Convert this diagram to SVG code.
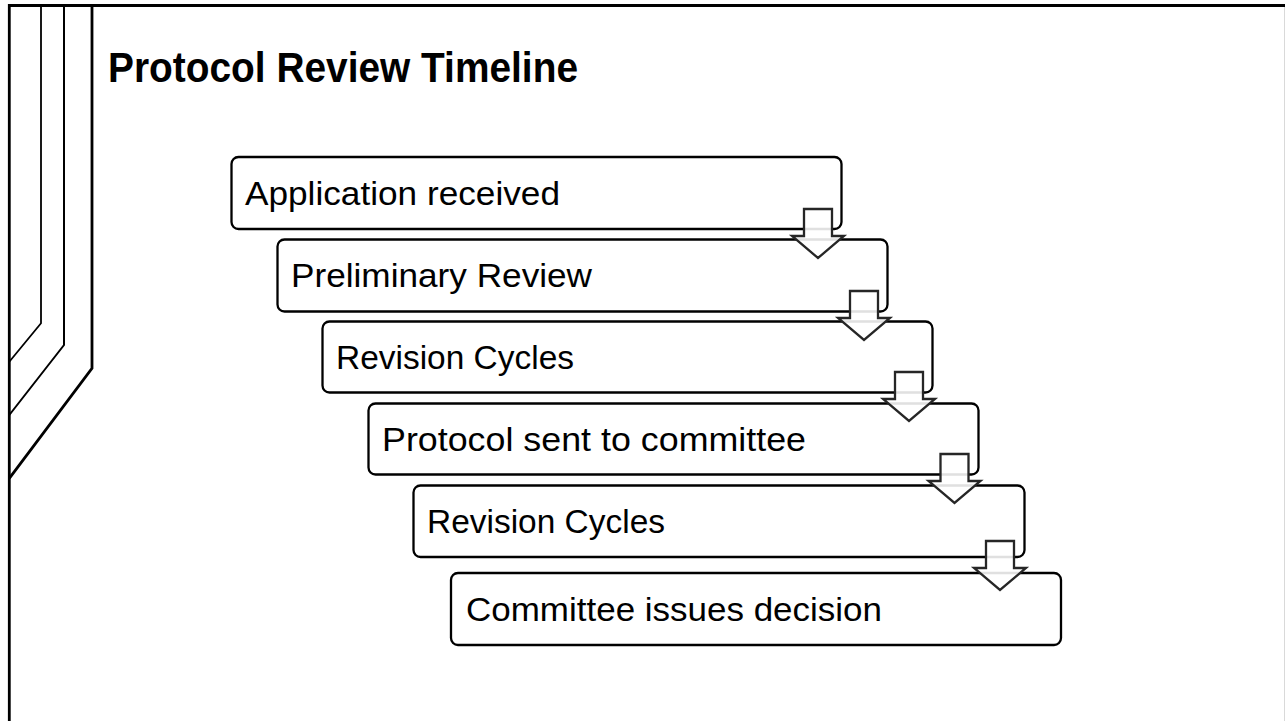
<svg xmlns="http://www.w3.org/2000/svg" width="1285" height="721" viewBox="0 0 1285 721">
<defs>
<style>
.box{fill:#ffffff;stroke:#000000;stroke-width:2.3}
.lbl{font-family:"Liberation Sans",Arial,sans-serif;font-size:33px;fill:#000000}
.title{font-family:"Liberation Sans",Arial,sans-serif;font-size:42px;font-weight:bold;fill:#000000}
.arrow{fill:#ffffff;fill-opacity:0.88;stroke:#262626;stroke-width:2.3;stroke-linejoin:miter}
.deco{fill:none;stroke:#000000}
</style>
</defs>
<rect x="0" y="0" width="1285" height="721" fill="#ffffff"/>
<g id="frame">
<line x1="1284.5" y1="5" x2="1284.5" y2="721" stroke="#d9d9d9" stroke-width="1"/>
<polyline class="deco" points="1285,5.5 9.3,5.5 9.3,721" stroke-width="2.8"/>
<polyline class="deco" points="41,5.5 41,323.3 9.3,361.7" stroke-width="1.8"/>
<polyline class="deco" points="64,5.5 64,345 9.3,415" stroke-width="2"/>
<polyline class="deco" points="92,5.5 92,368.3 9.3,478.3" stroke-width="2.8"/>
</g>
<g id="title">
<text class="title" x="108" y="81.7" textLength="470" lengthAdjust="spacingAndGlyphs">Protocol Review Timeline</text>
</g>
<g id="node1">
<rect class="box" x="231.5" y="157" width="610" height="72" rx="7"/>
<text class="lbl" x="245" y="204.5" textLength="315" lengthAdjust="spacingAndGlyphs">Application received</text>
</g>
<g id="node2">
<rect class="box" x="277.5" y="239.5" width="610" height="72" rx="7"/>
<text class="lbl" x="291" y="287" textLength="301" lengthAdjust="spacingAndGlyphs">Preliminary Review</text>
</g>
<g id="node3">
<rect class="box" x="322.5" y="321.5" width="610" height="71" rx="7"/>
<text class="lbl" x="336" y="369" textLength="238" lengthAdjust="spacingAndGlyphs">Revision Cycles</text>
</g>
<g id="node4">
<rect class="box" x="368.5" y="403.5" width="610" height="71" rx="7"/>
<text class="lbl" x="382" y="451" textLength="424" lengthAdjust="spacingAndGlyphs">Protocol sent to committee</text>
</g>
<g id="node5">
<rect class="box" x="413.5" y="485.5" width="611" height="71.5" rx="7"/>
<text class="lbl" x="427" y="533" textLength="238" lengthAdjust="spacingAndGlyphs">Revision Cycles</text>
</g>
<g id="node6">
<rect class="box" x="451" y="573" width="610" height="72" rx="7"/>
<text class="lbl" x="466" y="620.5" textLength="416" lengthAdjust="spacingAndGlyphs">Committee issues decision</text>
</g>
<g id="connectors">
<path class="arrow" d="M804,209 H832 V236 H844 L818,258 L792,236 H804 Z"/>
<path class="arrow" d="M850,291 H878 V318 H890 L864,340 L838,318 H850 Z"/>
<path class="arrow" d="M895,372 H923 V399 H935 L909,421 L883,399 H895 Z"/>
<path class="arrow" d="M940.5,454 H968.5 V481 H980.5 L954.5,503 L928.5,481 H940.5 Z"/>
<path class="arrow" d="M986,541 H1014 V568 H1026 L1000,590 L974,568 H986 Z"/>
</g>
</svg>
